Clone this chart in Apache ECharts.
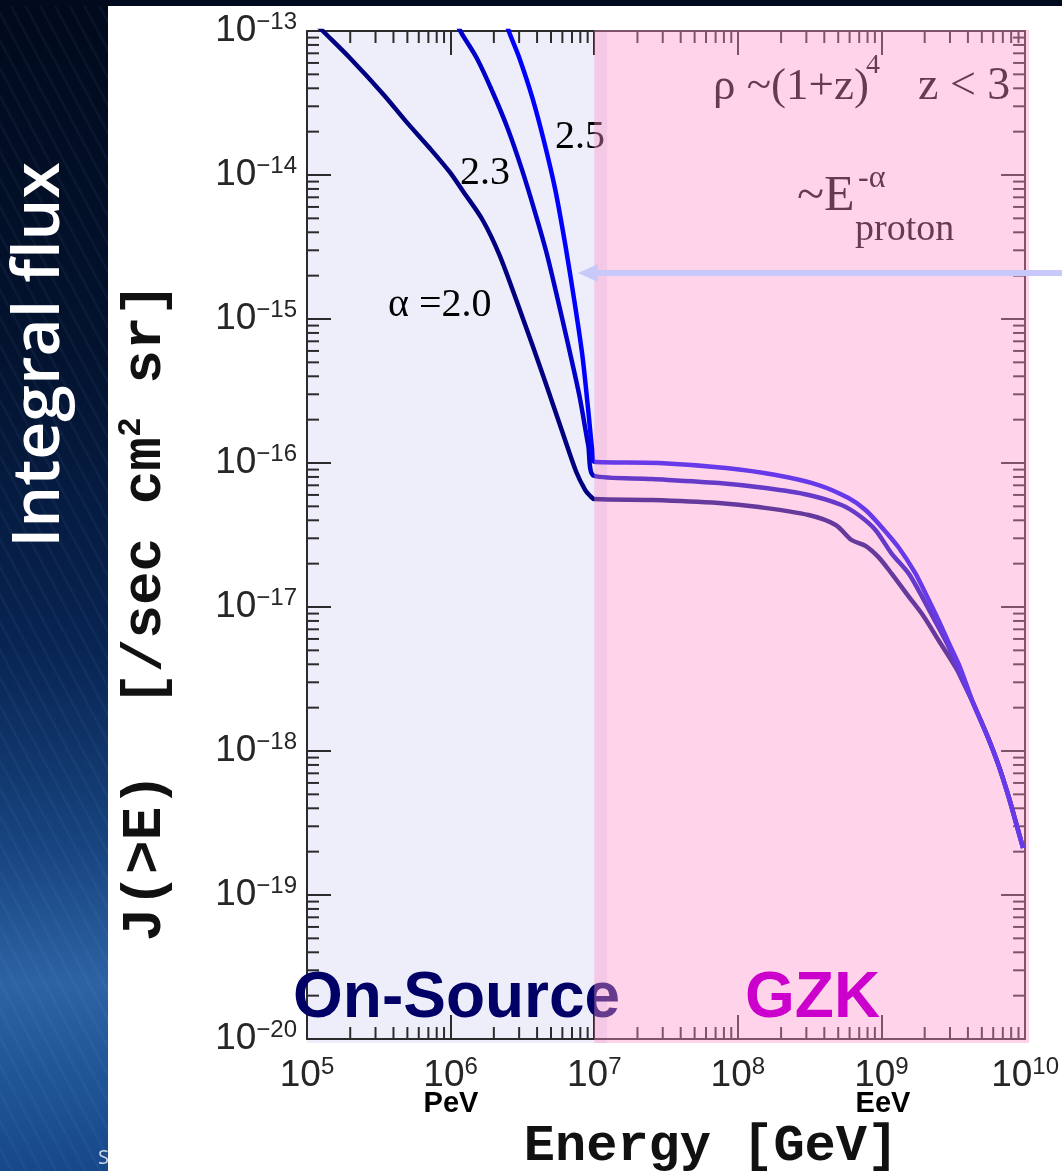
<!DOCTYPE html>
<html>
<head>
<meta charset="utf-8">
<script src="https://cdn.jsdelivr.net/npm/echarts@6/dist/echarts.min.js"></script>
<style>
  html, body { margin: 0; padding: 0; background: #020b1d; }
  #stage { position: relative; width: 1062px; height: 1171px; overflow: hidden; background: #020b1d; }
  #strip {
    position: absolute; left: 0; top: 6px; width: 108px; height: 1165px;
    background:
      repeating-linear-gradient(62deg, rgba(255,255,255,0) 0px, rgba(255,255,255,0) 9px, rgba(140,180,235,0.07) 10px, rgba(255,255,255,0) 13px),
      linear-gradient(180deg, #010a1c 0%, #03132f 30%, #082452 55%, #17447f 72%, #2d63a4 84%, #1f5596 92%, #17488a 100%);
  }
  #panel { position: absolute; left: 108px; top: 6px; width: 954px; height: 1165px; background: #ffffff; }
  #chart { position: absolute; left: 0; top: 0; width: 1062px; height: 1171px; }
</style>
</head>
<body>
<div id="stage">
  <div id="strip"></div>
  <div id="panel"></div>
  <div id="chart"></div>
</div>
<script>
// Integral flux J(>E) for source spectra ~E^-alpha, rho ~ (1+z)^4, z < 3
const X_MIN = 1e5, X_MAX = 1e10;
const Y_MIN = 1e-20, Y_MAX = 1e-13;

// alpha = 2.0
const energyAlpha20 = [1e5, 1.31e5, 1.99e5, 3.43e5, 4.94e5, 7.14e5, 9.84e5, 1.23e6, 1.67e6, 2.19e6, 2.87e6, 3.71e6, 4.64e6, 6.00e6, 7.50e6, 8.66e6, 9.38e6, 1e7, 2.53e7, 7.38e7, 1.40e8, 3.11e8, 4.80e8, 6.19e8, 7.74e8, 9.53e8, 1.17e9, 1.54e9, 1.96e9, 2.49e9, 3.43e9, 4.35e9, 5.54e9, 6.49e9, 7.62e9, 8.66e9, 9.68e9];
const fluxAlpha20 = [1.29e-13, 9.84e-14, 6.49e-14, 3.60e-14, 2.33e-14, 1.54e-14, 1.05e-14, 7.62e-15, 4.87e-15, 2.78e-15, 1.35e-15, 6.59e-16, 3.48e-16, 1.64e-16, 8.66e-17, 6.49e-17, 5.90e-17, 5.62e-17, 5.53e-17, 5.27e-17, 4.94e-17, 4.35e-17, 3.71e-17, 2.92e-17, 2.66e-17, 2.22e-17, 1.72e-17, 1.19e-17, 8.66e-18, 5.90e-18, 3.54e-18, 2.15e-18, 1.23e-18, 8.13e-19, 4.95e-19, 3.16e-19, 2.12e-19];

// alpha = 2.3
const energyAlpha23 = [1.07e6, 1.19e6, 1.52e6, 1.96e6, 2.49e6, 3.11e6, 3.83e6, 4.64e6, 5.54e6, 6.59e6, 7.87e6, 9.08e6, 1e7, 2.53e7, 7.38e7, 1.56e8, 3.11e8, 5.27e8, 6.92e8, 9.08e8, 1.17e9, 1.54e9, 1.81e9, 2.30e9, 2.92e9, 3.43e9, 4.35e9, 5.54e9, 6.49e9, 7.62e9, 8.66e9, 9.68e9];
const fluxAlpha23 = [1.19e-13, 9.68e-14, 6.49e-14, 3.77e-14, 2.12e-14, 1.12e-14, 5.71e-15, 2.92e-15, 1.40e-15, 6.59e-16, 2.96e-16, 1.33e-16, 8.13e-17, 7.74e-17, 7.26e-17, 6.70e-17, 6.00e-17, 5.11e-17, 4.35e-17, 3.43e-17, 2.37e-17, 1.72e-17, 1.31e-17, 8.39e-18, 5.36e-18, 3.54e-18, 2.15e-18, 1.23e-18, 8.13e-19, 4.95e-19, 3.16e-19, 2.12e-19];

// alpha = 2.5
const energyAlpha25 = [2.33e6, 2.57e6, 3.01e6, 3.71e6, 4.50e6, 5.36e6, 6.29e6, 7.26e6, 8.26e6, 9.08e6, 9.68e6, 1e7, 2.82e7, 8.26e7, 1.84e8, 3.65e8, 5.90e8, 7.74e8, 1.0e9, 1.31e9, 1.72e9, 2.02e9, 2.49e9, 3.01e9, 3.54e9, 4.35e9, 5.54e9, 6.49e9, 7.62e9, 8.66e9, 9.68e9];
const fluxAlpha25 = [1.29e-13, 9.68e-14, 6.49e-14, 3.43e-14, 1.67e-14, 7.87e-15, 3.27e-15, 1.35e-15, 5.62e-16, 2.33e-16, 1.23e-16, 1.02e-16, 1.0e-16, 9.23e-17, 8.25e-17, 7.03e-17, 5.71e-17, 4.72e-17, 3.60e-17, 2.61e-17, 1.72e-17, 1.25e-17, 8.13e-18, 5.36e-18, 3.77e-18, 2.15e-18, 1.23e-18, 8.13e-19, 4.95e-19, 3.16e-19, 2.12e-19];

// energy ranges of the two production regimes
const onSourceBand = [1e5, 1.23e7];
const gzkBand = [1e7, 1e10];

// minor tick values (2..9 per decade)
function decadeSteps(lo, hi) {
  const out = [];
  for (let k = lo; k < hi; k++) for (let m = 2; m <= 9; m++) out.push(m * Math.pow(10, k));
  return out;
}
const xMinorTicks = decadeSteps(5, 10);
const yMinorTicks = decadeSteps(-20, -13);

const zip = (xs, ys) => xs.map((x, i) => [x, ys[i]]);

const AXIS_COLOR = '#2b2b2b';
const MAJOR = 24, MINOR = 12;
const labelFont = "'Liberation Sans', Arial, Helvetica, sans-serif";
const serif = "'Liberation Serif', 'Times New Roman', serif";
const mono = "'Liberation Mono', 'Courier New', 'DejaVu Sans Mono', monospace";

function powerLabel(v) {
  const e = Math.round(Math.log10(v));
  return '{b|10}{s|' + (e < 0 ? '\u2212' : '') + Math.abs(e) + '}';
}
const powerRich = {
  b: { fontSize: 37, lineHeight: 42, fontFamily: labelFont, color: '#262626' },
  s: { fontSize: 24, lineHeight: 24, verticalAlign: 'top', fontFamily: labelFont, color: '#262626' }
};

function baseAxis() {
  return {
    type: 'log', logBase: 10, z: 2,
    axisLine: { show: true, onZero: false, lineStyle: { color: AXIS_COLOR, width: 2 } },
    axisTick: { show: true, inside: true, length: MAJOR, lineStyle: { color: AXIS_COLOR, width: 2 } },
    minorTick: { show: false },
    splitLine: { show: false }
  };
}

function regionItem(fill, padRight, padBottom) {
  return function (params, api) {
    const a = api.coord([api.value(0), Y_MAX]);
    const b = api.coord([api.value(2), Y_MIN]);
    return {
      type: 'rect',
      shape: { x: a[0], y: a[1] - 1, width: b[0] - a[0] + padRight, height: b[1] - a[1] + 1 + padBottom },
      style: { fill: fill }
    };
  };
}

function fluxSeries(name, color, xs, ys) {
  return {
    name: name, type: 'line', z: 3, showSymbol: false, symbol: 'none', clip: true,
    smooth: 0.3,
    lineStyle: { color: color, width: 4.5, join: 'round' }, itemStyle: { color: color },
    data: zip(xs, ys)
  };
}

const chart = echarts.init(document.getElementById('chart'), null, { renderer: 'canvas' });

const option = {
  animation: false,
  backgroundColor: 'transparent',
  grid: { left: 307, top: 31, width: 720, height: 1008, containLabel: false },
  xAxis: [
    Object.assign(baseAxis(), {
      min: X_MIN, max: X_MAX, splitNumber: 5, position: 'bottom',
      axisLabel: { show: true, margin: 16, formatter: powerLabel, rich: powerRich, showMinLabel: true, showMaxLabel: true, hideOverlap: false }
    }),
    Object.assign(baseAxis(), {
      min: X_MIN, max: X_MAX, splitNumber: 5, position: 'top', axisLabel: { show: false }
    })
  ],
  yAxis: [
    Object.assign(baseAxis(), {
      min: Y_MIN, max: Y_MAX, splitNumber: 7, position: 'left',
      axisLabel: { show: true, margin: 10, formatter: powerLabel, rich: powerRich, showMinLabel: true, showMaxLabel: true, hideOverlap: false }
    }),
    Object.assign(baseAxis(), {
      min: Y_MIN, max: Y_MAX, splitNumber: 7, position: 'right', axisLabel: { show: false }
    })
  ],
  series: [
    {
      name: 'on-source', type: 'custom', z: 1, silent: true, clip: false,
      renderItem: regionItem('#eeeefb', 0, 4),
      data: [[onSourceBand[0], Y_MIN, onSourceBand[1]]]
    },
    {
      name: 'x minor ticks', type: 'custom', z: 2, silent: true, clip: false,
      renderItem: function (params, api) {
        const v = api.value(0);
        const b = api.coord([v, Y_MIN]);
        const t = api.coord([v, Y_MAX]);
        const st = { stroke: AXIS_COLOR, lineWidth: 2 };
        return {
          type: 'group', children: [
            { type: 'line', shape: { x1: b[0], y1: b[1], x2: b[0], y2: b[1] - MINOR }, style: st },
            { type: 'line', shape: { x1: t[0], y1: t[1], x2: t[0], y2: t[1] + MINOR }, style: st }
          ]
        };
      },
      data: xMinorTicks.map(v => [v, Y_MIN])
    },
    {
      name: 'y minor ticks', type: 'custom', z: 2, silent: true, clip: false,
      renderItem: function (params, api) {
        const v = api.value(1);
        const l = api.coord([X_MIN, v]);
        const r = api.coord([X_MAX, v]);
        const st = { stroke: AXIS_COLOR, lineWidth: 2 };
        return {
          type: 'group', children: [
            { type: 'line', shape: { x1: l[0], y1: l[1], x2: l[0] + MINOR, y2: l[1] }, style: st },
            { type: 'line', shape: { x1: r[0], y1: r[1], x2: r[0] - MINOR, y2: r[1] }, style: st }
          ]
        };
      },
      data: yMinorTicks.map(v => [X_MIN, v])
    },
    fluxSeries('\u03b1=2.0', '#000080', energyAlpha20, fluxAlpha20),
    fluxSeries('\u03b1=2.3', '#0000c8', energyAlpha23, fluxAlpha23),
    fluxSeries('\u03b1=2.5', '#0000ff', energyAlpha25, fluxAlpha25),
    {
      name: 'GZK', type: 'custom', z: 5, silent: true, clip: false,
      renderItem: regionItem('rgba(255,145,200,0.4)', 4, 4),
      data: [[gzkBand[0], Y_MIN, gzkBand[1]]]
    }
  ],
  graphic: [
    // left side caption
    { type: 'text', x: 40, y: 355, rotation: Math.PI / 2, z: 10,
      style: { text: 'Integral flux', fill: '#ffffff', font: "600 66px 'Open Sans', 'Noto Sans', sans-serif",
               align: 'center', verticalAlign: 'middle', textAlign: 'center', textVerticalAlign: 'middle' } },
    { type: 'text', x: 98, y: 1158, z: 10,
      style: { text: 'S', fill: 'rgba(235,240,250,0.85)', font: "20px 'Open Sans', sans-serif",
               align: 'left', verticalAlign: 'middle', textAlign: 'left', textVerticalAlign: 'middle' } },
    // axis titles
    { type: 'text', x: 146, y: 612, rotation: Math.PI / 2, z: 10,
      style: {
        text: '{t|J(>E)  [/sec cm}{u|2}{t| sr]}',
        align: 'center', verticalAlign: 'middle', textAlign: 'center', textVerticalAlign: 'middle',
        rich: {
          t: { fontFamily: mono, fontWeight: 'bold', fontSize: 56, lineHeight: 62, fill: '#111', color: '#111' },
          u: { fontFamily: mono, fontWeight: 'bold', fontSize: 33, lineHeight: 33, verticalAlign: 'top', fill: '#111', color: '#111' }
        }
      } },
    { type: 'text', x: 711, y: 1147, z: 10,
      style: { text: 'Energy [GeV]', fill: '#111', font: "bold 52px " + mono,
               align: 'center', verticalAlign: 'middle', textAlign: 'center', textVerticalAlign: 'middle' } },
    { type: 'text', x: 451, y: 1104, z: 10,
      style: { text: 'PeV', fill: '#000', font: "bold 29px " + labelFont,
               align: 'center', verticalAlign: 'middle', textAlign: 'center', textVerticalAlign: 'middle' } },
    { type: 'text', x: 883, y: 1104, z: 10,
      style: { text: 'EeV', fill: '#000', font: "bold 29px " + labelFont,
               align: 'center', verticalAlign: 'middle', textAlign: 'center', textVerticalAlign: 'middle' } },
    // curve labels
    { type: 'text', x: 555, y: 137, z: 4,
      style: { text: '2.5', fill: '#000', font: "40px " + serif, align: 'left', verticalAlign: 'middle', textAlign: 'left', textVerticalAlign: 'middle' } },
    { type: 'text', x: 460, y: 173, z: 4,
      style: { text: '2.3', fill: '#000', font: "40px " + serif, align: 'left', verticalAlign: 'middle', textAlign: 'left', textVerticalAlign: 'middle' } },
    { type: 'text', x: 388, y: 305, z: 4,
      style: { text: '\u03b1 =2.0', fill: '#000', font: "40px " + serif, align: 'left', verticalAlign: 'middle', textAlign: 'left', textVerticalAlign: 'middle' } },
    // model description
    { type: 'text', x: 713, y: 87, z: 4,
      style: { text: '\u03c1 ~(1+z)', fill: '#000', font: "45px " + serif, align: 'left', verticalAlign: 'middle', textAlign: 'left', textVerticalAlign: 'middle' } },
    { type: 'text', x: 866, y: 66, z: 4,
      style: { text: '4', fill: '#000', font: "28px " + serif, align: 'left', verticalAlign: 'middle', textAlign: 'left', textVerticalAlign: 'middle' } },
    { type: 'text', x: 918, y: 87, z: 4,
      style: { text: 'z < 3', fill: '#000', font: "46px " + serif, align: 'left', verticalAlign: 'middle', textAlign: 'left', textVerticalAlign: 'middle' } },
    { type: 'text', x: 797, y: 197, z: 4,
      style: { text: '~E', fill: '#000', font: "50px " + serif, align: 'left', verticalAlign: 'middle', textAlign: 'left', textVerticalAlign: 'middle' } },
    { type: 'text', x: 858, y: 179, z: 4,
      style: { text: '-\u03b1', fill: '#000', font: "32px " + serif, align: 'left', verticalAlign: 'middle', textAlign: 'left', textVerticalAlign: 'middle' } },
    { type: 'text', x: 855, y: 230, z: 4,
      style: { text: 'proton', fill: '#000', font: "38px " + serif, align: 'left', verticalAlign: 'middle', textAlign: 'left', textVerticalAlign: 'middle' } },
    // regime names
    { type: 'text', x: 293, y: 999, z: 4,
      style: { text: 'On-Source', fill: '#000066', font: "bold 64px " + labelFont, align: 'left', verticalAlign: 'middle', textAlign: 'left', textVerticalAlign: 'middle' } },
    { type: 'text', x: 745, y: 999, z: 7,
      style: { text: 'GZK', fill: '#cc00cc', font: "bold 64px " + labelFont, align: 'left', verticalAlign: 'middle', textAlign: 'left', textVerticalAlign: 'middle' } },
    // pointer arrow
    { type: 'line', z: 7, shape: { x1: 1062, y1: 273, x2: 594, y2: 273 }, style: { stroke: '#c8c8fa', lineWidth: 6 } },
    { type: 'polygon', z: 7, shape: { points: [[578, 273], [598, 264], [598, 282]] }, style: { fill: '#c8c8fa' } }
  ]
};

chart.setOption(option);
</script>
</body>
</html>
